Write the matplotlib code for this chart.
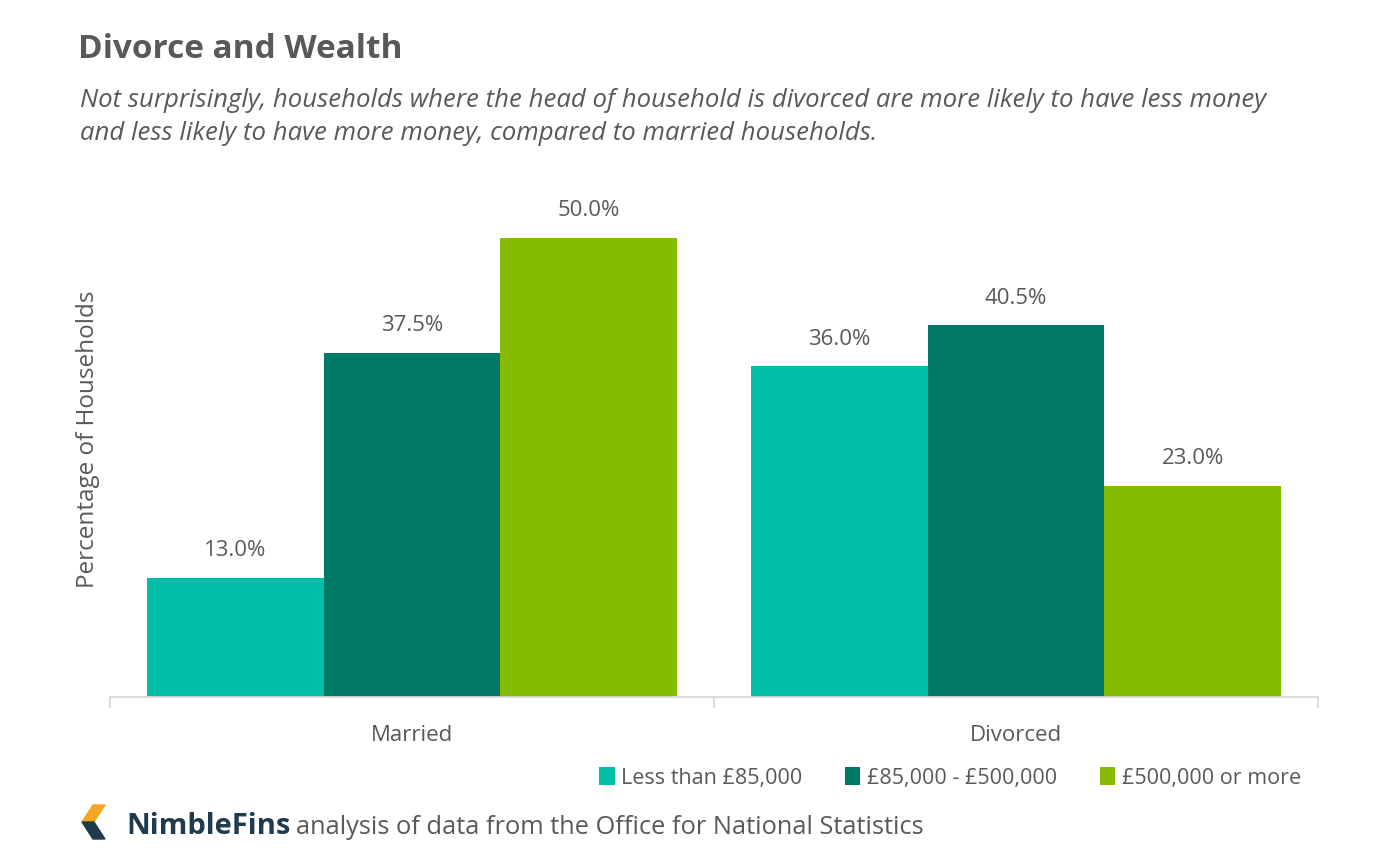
import matplotlib
matplotlib.use("Agg")
import matplotlib.pyplot as plt
from matplotlib.patches import Polygon
import numpy as np

plt.rcParams['font.family'] = ['Open Sans', 'DejaVu Sans']

categories = ["Married", "Divorced"]
series_names = ["Less than £85,000", "£85,000 - £500,000", "£500,000 or more"]
less_85k = [13.0, 36.0]
mid_85k_500k = [37.5, 40.5]
over_500k = [50.0, 23.0]
series_values = [less_85k, mid_85k_500k, over_500k]
colors = ["#00BFA9", "#007A66", "#86BC00"]

title = "Divorce and Wealth"
subtitle = ("Not surprisingly, households where the head of household is divorced are more likely to have less money\n"
            "and less likely to have more money, compared to married households.")
ylabel = "Percentage of Households"
brand = "NimbleFins"
source = "analysis of data from the Office for National Statistics"

TXT = "#595959"

fig = plt.figure(figsize=(14, 8.52), dpi=100)
ax = fig.add_axes([110/1400, 1-697/852, (1318-110)/1400, (697-192)/852])

x = np.arange(len(categories))
w = 0.293
for i, (name, vals, c) in enumerate(zip(series_names, series_values, colors)):
    bars = ax.bar(x + (i-1)*w, vals, width=w, color=c, label=name, zorder=2)
    for b, v in zip(bars, vals):
        ax.text(b.get_x()+b.get_width()/2, v + 1.8, f"{v:.1f}%", ha='center', va='bottom',
                fontsize=16, color=TXT)

ax.set_xlim(-0.5, 1.5)
ax.set_ylim(0, 55)
for s in ['top', 'right', 'left']:
    ax.spines[s].set_visible(False)
ax.spines['bottom'].set_color("#D9D9D9")
ax.spines['bottom'].set_linewidth(1.3)
ax.set_yticks([])
ax.set_xticks(x)
ax.set_xticklabels(categories, fontsize=16, color=TXT)
ax.tick_params(axis='x', which='major', length=0, pad=20)
ax.set_xticks([-0.5, 0.5, 1.5], minor=True)
ax.tick_params(axis='x', which='minor', length=8, color="#D9D9D9", width=1.3)
ax.set_ylabel(ylabel, fontsize=17.5, color=TXT)
ax.yaxis.set_label_coords(-0.008, 0.51)

fig.text(78/1400, 1-50/852, title, fontsize=24, fontweight='bold', color=TXT, va='center', ha='left')
fig.text(80/1400, 1-117/852, subtitle, fontsize=18.5, style='italic', color=TXT, va='center', ha='left',
         linespacing=1.45)

leg = fig.legend(loc='center right', bbox_to_anchor=(1320/1400, 1-778/852), ncol=3, frameon=False,
                 fontsize=15.5, handlelength=0.7, handleheight=0.9, handletextpad=0.3, columnspacing=2.0,
                 labelcolor=TXT)

# logo
def fx(px): return px/1400
def fy(py): return 1-py/852
orange = Polygon([(fx(93), fy(805)), (fx(105), fy(805)), (fx(94), fy(822)), (fx(82), fy(822))],
                 closed=True, transform=fig.transFigure, color="#F5A623")
navy = Polygon([(fx(82), fy(822)), (fx(94), fy(822)), (fx(105), fy(839)), (fx(93), fy(839))],
               closed=True, transform=fig.transFigure, color="#1F3B4D")
fig.patches.extend([orange, navy])
t = fig.text(fx(126), fy(826), brand, fontsize=21, fontweight='bold', color="#1F3B4D", va='center', ha='left')
fig.canvas.draw()
bb = t.get_window_extent()
fig.text(bb.x1/1400 + 6/1400, fy(827), source, fontsize=18.3, color=TXT, va='center', ha='left')

fig.savefig("out.png", dpi=100, facecolor='white')
